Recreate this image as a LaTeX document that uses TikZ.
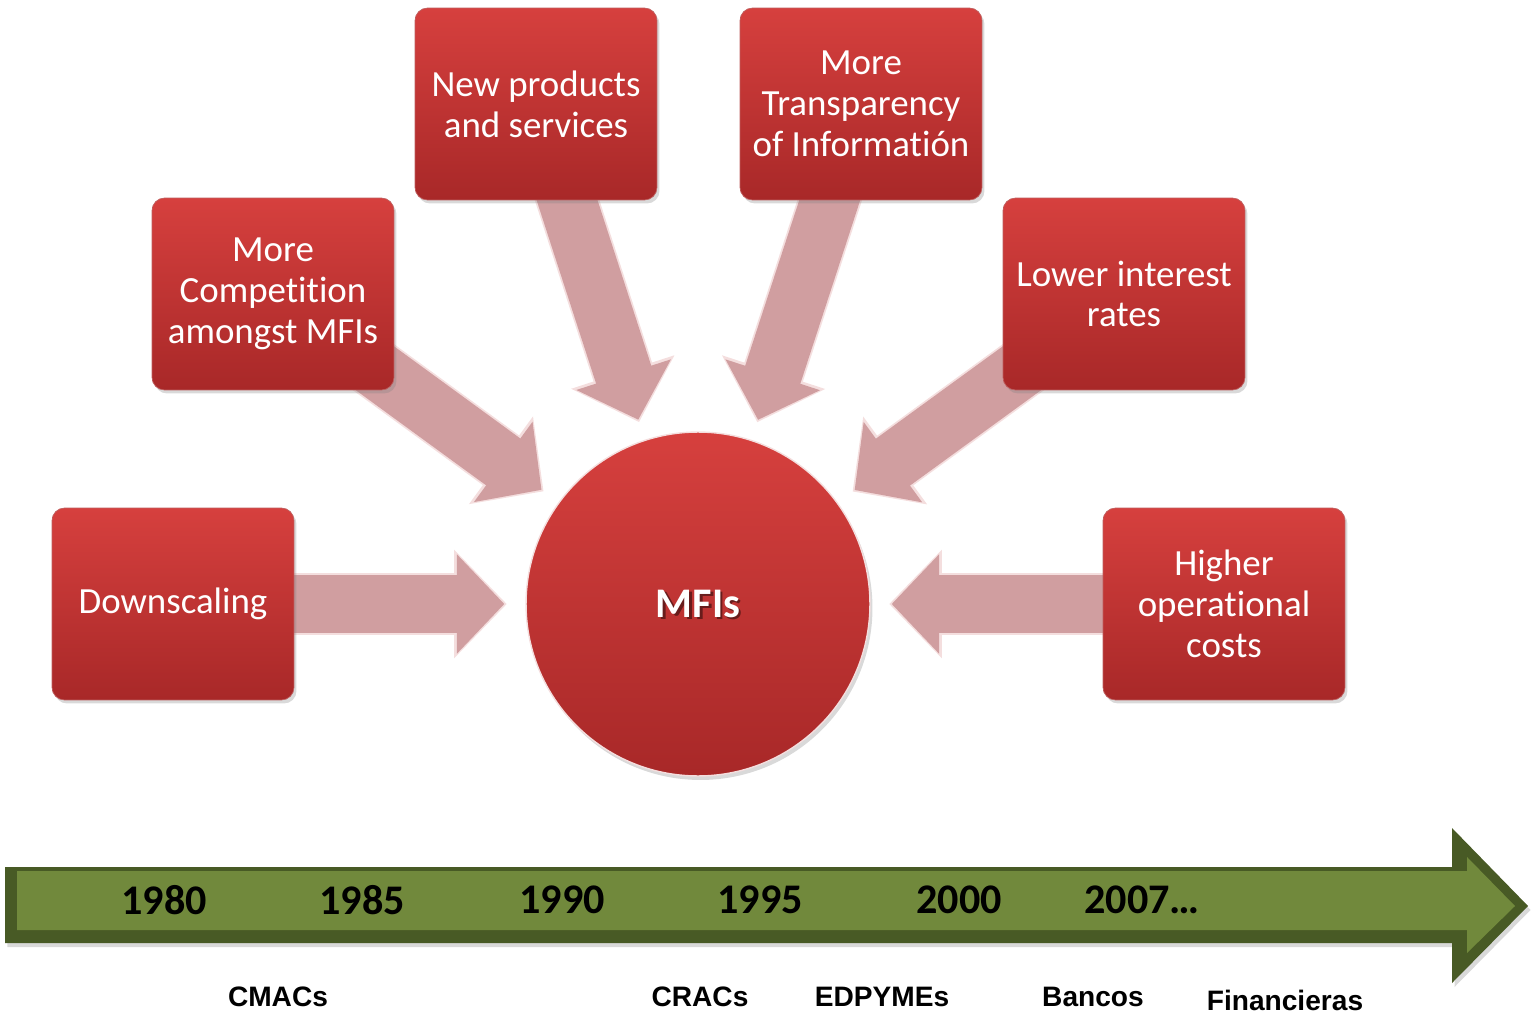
\documentclass[tikz,border=0pt]{standalone}
\usepackage{fontspec}
\setmainfont{Carlito}[Ligatures=NoCommon]
\newfontfamily\arialfont{Liberation Sans}
\usetikzlibrary{arrows.meta,shadows,backgrounds}

\definecolor{boxtop}{RGB}{214,64,62}
\definecolor{boxbot}{RGB}{168,40,40}
\definecolor{pushpink}{RGB}{208,158,160}
\definecolor{pushrim}{RGB}{244,222,222}
\definecolor{barouter}{RGB}{72,90,37}
\definecolor{barinner}{RGB}{113,137,60}

\tikzset{
    % Red boxes around the hub
    factor/.style={rectangle, rounded corners=0.25cm, minimum width=4.84cm, minimum height=3.84cm,
        top color=boxtop, bottom color=boxbot, draw=boxbot!75!white, thin,
        text=white, align=center, font=\fontsize{21}{23.2}\selectfont,
        drop shadow={opacity=0.3, shadow xshift=0.05cm, shadow yshift=-0.07cm}},
    % Central circle
    hub/.style={circle, minimum size=6.88cm, inner sep=0pt,
        top color=boxtop, bottom color=boxbot, draw=pushrim, line width=0.8pt,
        drop shadow={opacity=0.3, shadow xshift=0.05cm, shadow yshift=-0.08cm}},
    hub text/.style={font=\fontsize{24}{28}\selectfont\bfseries, text=white},
    % Pink block arrows into the hub
    push/.style={line width=33pt, draw=pushpink, shorten <=-1cm, shorten >=0.42cm,
        -{Triangle[length=27pt, width=55pt]},
        preaction={draw=pushrim, line width=35pt, shorten >=0.37cm,
            -{Triangle[length=30pt, width=60pt]}}},
    % Timeline texts
    year/.style={font=\fontsize{24}{28}\selectfont\bfseries},
    kind/.style={font=\arialfont\fontsize{16}{19}\selectfont\bfseries},
}

\begin{document}
\begin{tikzpicture}[x=0.02cm, y=-0.02cm]
    \useasboundingbox (0,0) rectangle (1535,1013);

    % Hub
    \node[hub] (mfi) at (698,604) {};
    \node[hub text, text=black, opacity=0.45] (mfishade) at ([xshift=1.3pt, yshift=-1.3pt]mfi.center) {MFIs};
    \node[hub text] (mfitext) at (mfi) {MFIs};

    % Factors
    \node[factor] (down) at (173,604) {Downscaling};
    \node[factor] (comp) at (273,294) {More\\Competition\\amongst MFIs};
    \node[factor] (prod) at (536,104) {New products\\and services};
    \node[factor] (info) at (861,104) {More\\Transparency\\of Informatión};
    \node[factor] (rate) at (1124,294) {Lower interest\\rates};
    \node[factor] (cost) at (1224,604) {Higher\\operational\\costs};

    % Arrows behind the boxes
    \begin{scope}[on background layer]
        \foreach \src in {down,comp,prod,info,rate,cost}
            \draw[push] (\src) -- (mfi);
    \end{scope}

    % Timeline bar
    \fill[barouter, drop shadow={opacity=0.3, shadow xshift=0.05cm, shadow yshift=-0.08cm}]
        (5,867) -- (1452,867) -- (1452,828) -- (1528,906) -- (1452,983) -- (1452,943) -- (5,943) -- cycle;
    \fill[barinner]
        (17,871) -- (1467,871) -- (1467,857) -- (1515,906) -- (1467,953) -- (1467,930) -- (17,930) -- cycle;

    % Years
    \node[year] (y1980) at (164,900) {1980};
    \node[year] (y1985) at (362,900) {1985};
    \node[year] (y1990) at (562,900) {1990};
    \node[year] (y1995) at (760,900) {1995};
    \node[year] (y2000) at (959,900) {2000};
    \node[year] (y2007) at (1142,900) {2007…};

    % Institution types
    \node[kind] (cmac) at (278,997) {CMACs};
    \node[kind] (crac) at (700,997) {CRACs};
    \node[kind] (edpy) at (882,997) {EDPYMEs};
    \node[kind] (banc) at (1093,997) {Bancos};
    \node[kind] (fina) at (1285,1000) {Financieras};
\end{tikzpicture}
\end{document}
